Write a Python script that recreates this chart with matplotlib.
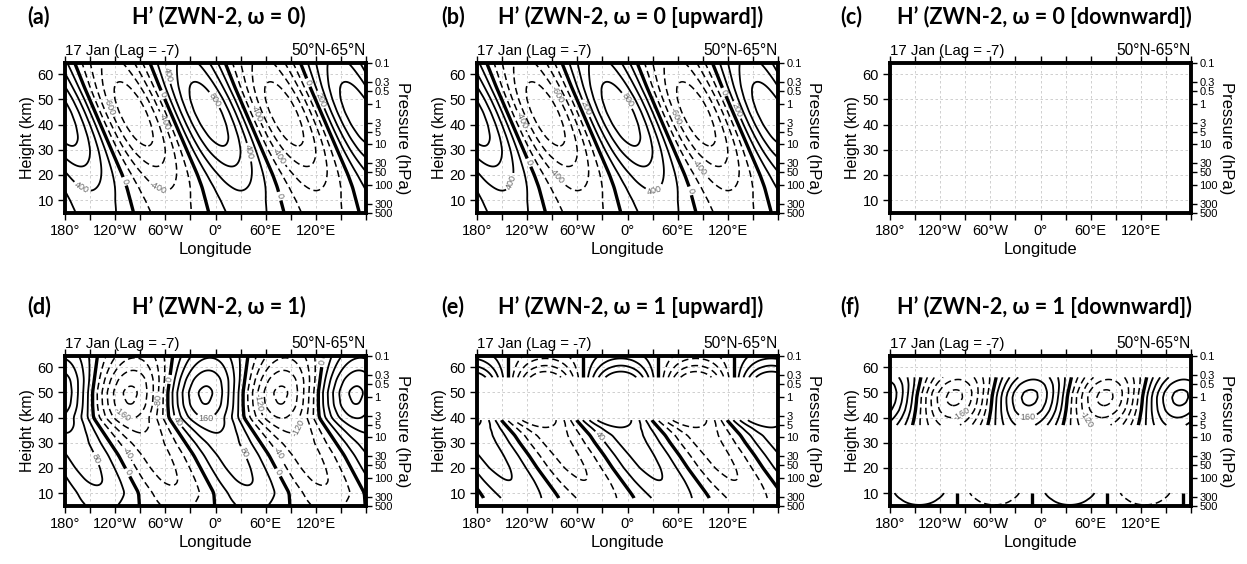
import numpy as np
import matplotlib
matplotlib.use("Agg")
import matplotlib.pyplot as plt
from matplotlib.ticker import MultipleLocator

plt.rcParams['font.family'] = ['Liberation Sans', 'DejaVu Sans']

# ---- data (wave-2 amplitude / phase of max vs height) ----
# phase = longitude (deg) of the positive maximum at that height
heights_a = [5, 10, 15, 20, 25, 30, 35, 40, 45, 50, 55, 60, 65]
amp_a = [300, 340, 420, 520, 640, 770, 870, 930, 950, 920, 840, 740, 650]
phase_a = [37, 33, 29, 23.5, 17, 10.5, 4, -2.5, -9, -15.5, -22, -28, -34]

heights_d = [5, 10, 15, 20, 25, 30, 35, 40, 45, 50, 55, 60, 65]
amp_d = [50, 72, 85, 92, 96, 102, 125, 162, 200, 210, 190, 150, 110]
phase_d = [44, 43, 35, 27, 19, 9, -1, -11, -12, -12, -10, -8, -6]

# upward part of omega = 1 (two separate layers)
heights_e_low = [8, 10, 15, 20, 25, 30, 33, 36, 39]
amp_e_low = [60, 66, 80, 88, 92, 96, 100, 118, 160]
phase_e_low = [53, 49, 38, 27, 17, 6, 0, -8, -16]
heights_e_top = [56, 58, 60, 62, 65]
amp_e_top = [200, 165, 130, 100, 60]
phase_e_top = [-8, -8, -8, -8, -8]

# downward part of omega = 1
heights_f_mid = [37, 40, 43, 46, 48, 50, 53, 56]
amp_f_mid = [130, 160, 190, 207, 212, 208, 185, 150]
phase_f_mid = [-18, -16, -14.5, -13.5, -13, -12, -10, -8]
heights_f_low = [5, 7.5, 10]
amp_f_low = [38, 55, 78]
phase_f_low = [35, 35, 35]

levels_w0 = np.arange(-1000, 1001, 200)
levels_w1 = np.arange(-240, 241, 40)

pressure_ticks = [0.1, 0.3, 0.5, 1, 3, 5, 10, 30, 50, 100, 300, 500]
pressure_labels = ['0.1', '0.3', '0.5', '1', '3', '5', '10', '30', '50', '100', '300', '500']
lon_ticks = [-180, -120, -60, 0, 60, 120]
lon_labels = ['180°', '120°W', '60°W', '0°', '60°E', '120°E']

titles = ['H’ (ZWN-2, ω = 0)', 'H’ (ZWN-2, ω = 0 [upward])', 'H’ (ZWN-2, ω = 0 [downward])',
          'H’ (ZWN-2, ω = 1)', 'H’ (ZWN-2, ω = 1 [upward])', 'H’ (ZWN-2, ω = 1 [downward])']
tags = ['(a)', '(b)', '(c)', '(d)', '(e)', '(f)']

# label positions (lon, km) for contour labels
lab_a = {'neg': [(-128, 47), (-63, 41), (-67, 16), (52, 45), (74, 27)],
         'zero': [(-69, 51), (-104, 18), (106, 56), (82, 12)],
         'pos': [(-55, 60), (-5, 49), (-156, 17), (40, 29), (104, 47)]}
lab_b = {'neg': [(-83, 52), (-125, 42), (-83, 20), (55, 43), (87, 23)],
         'zero': [(-117, 25), (79, 14), (109, 52)],
         'pos': [(-53, 46), (-3, 49), (-138, 17), (31, 16), (111, 43)]}
lab_d = {'neg': [(-69, 47), (-112, 41), (-102, 27), (50, 46), (76, 26), (100, 36)],
         'zero': [(-51, 55), (-106, 18), (74, 18), (124, 62)],
         'pos': [(-11, 40), (-47, 38), (-148, 23), (27, 25)]}
lab_e = {'neg': [], 'zero': [], 'pos': [(-31, 33)]}
lab_f = {'neg': [(-92, 40), (59, 40)], 'zero': [], 'pos': [(-15, 40)]}

Z_BOT = 7.0 * np.log(1000 / 500.0)
Z_TOP = 7.0 * np.log(1000 / 0.1)

W, H = 1247, 564
fig = plt.figure(figsize=(W / 100, H / 100), dpi=100)

col_left = [65, 477, 890]
row_top = [63, 356]
tag_x = [27, 441, 840]
title_y = [17, 307]


def draw_layer(ax, heights, amp, phase, levels, labels=None):
    lon = np.linspace(-180, 180, 361)
    zf = np.linspace(heights[0], heights[-1], 240)
    a = np.interp(zf, heights, amp)
    p = np.interp(zf, heights, phase)
    # light smoothing of the piecewise-linear profiles
    k = np.ones(9) / 9.0
    a = np.convolve(np.pad(a, 4, mode='edge'), k, mode='valid')
    p = np.convolve(np.pad(p, 4, mode='edge'), k, mode='valid')
    field = a[:, None] * np.cos(2 * np.deg2rad(lon[None, :] - p[:, None]))
    neg = levels[levels < 0]
    pos = levels[levels > 0]
    cs_n = ax.contour(lon, zf, field, levels=neg, colors='k', linewidths=1.1,
                      linestyles=[(0, (4.5, 2.5))])
    cs_z = ax.contour(lon, zf, field, levels=[0], colors='k', linewidths=2.4)
    cs_p = ax.contour(lon, zf, field, levels=pos, colors='k', linewidths=1.3)
    if labels:
        for cs, key in ((cs_n, 'neg'), (cs_z, 'zero'), (cs_p, 'pos')):
            if labels.get(key):
                ax.clabel(cs, manual=labels[key], inline=True, fontsize=6.5,
                          colors='0.4', fmt='%d', inline_spacing=2)


axes = []
for i in range(6):
    r, c = divmod(i, 3)
    left, top = col_left[c], row_top[r]
    ax = fig.add_axes([left / W, 1 - (top + 150) / H, 301 / W, 150 / H])
    axes.append(ax)
    ax.set_xlim(-180, 180)
    ax.set_ylim(Z_BOT, Z_TOP)
    ax.set_axisbelow(True)
    ax.set_xticks(lon_ticks)
    ax.set_xticklabels(lon_labels)
    ax.xaxis.set_minor_locator(MultipleLocator(30))
    ax.set_yticks([10, 20, 30, 40, 50, 60])
    ax.grid(True, which='major', color='0.78', ls=(0, (3, 3)), lw=0.6)
    ax.xaxis.grid(True, which='minor', color='0.78', ls=(0, (3, 3)), lw=0.6)
    ax.tick_params(axis='both', which='both', direction='out', length=5, width=1.0,
                   labelsize=10.5, top=True, pad=3)
    for sp in ax.spines.values():
        sp.set_linewidth(2.8)
    ax.set_xlabel('Longitude', fontsize=12, labelpad=3)
    ax.set_ylabel('Height (km)', fontsize=11.5, labelpad=2)

    ax2 = ax.twinx()
    ax2.set_ylim(Z_BOT, Z_TOP)
    ax2.set_yticks([7.0 * np.log(1000 / p) for p in pressure_ticks])
    ax2.set_yticklabels(pressure_labels, fontsize=8)
    ax2.tick_params(axis='y', direction='out', length=4, width=1.0, pad=2)
    for sp in ax2.spines.values():
        sp.set_visible(False)
    ax2.set_ylabel('Pressure (hPa)', fontsize=12, rotation=270, labelpad=12)

    ax.text(0, 1.035, '17 Jan (Lag = -7)', transform=ax.transAxes, ha='left',
            va='bottom', fontsize=10.8)
    ax.text(1, 1.035, '50°N-65°N', transform=ax.transAxes, ha='right',
            va='bottom', fontsize=11.2)

    fig.text(tag_x[c] / W, 1 - title_y[r] / H, tags[i], fontsize=15.5,
             fontweight='bold', family='Lato', va='center', ha='left')
    fig.text((left + 150 + 4) / W, 1 - title_y[r] / H, titles[i], fontsize=15.5,
             fontweight='bold', family=['Lato', 'DejaVu Sans'], va='center', ha='center')

draw_layer(axes[0], heights_a, amp_a, phase_a, levels_w0, lab_a)
draw_layer(axes[1], heights_a, amp_a, phase_a, levels_w0, lab_b)
# (c) downward part for omega = 0 is empty
draw_layer(axes[3], heights_d, amp_d, phase_d, levels_w1, lab_d)
draw_layer(axes[4], heights_e_low, amp_e_low, phase_e_low, levels_w1, lab_e)
draw_layer(axes[4], heights_e_top, amp_e_top, phase_e_top, levels_w1)
draw_layer(axes[5], heights_f_mid, amp_f_mid, phase_f_mid, levels_w1, lab_f)
draw_layer(axes[5], heights_f_low, amp_f_low, phase_f_low, levels_w1)

fig.savefig('out.png', dpi=100)
